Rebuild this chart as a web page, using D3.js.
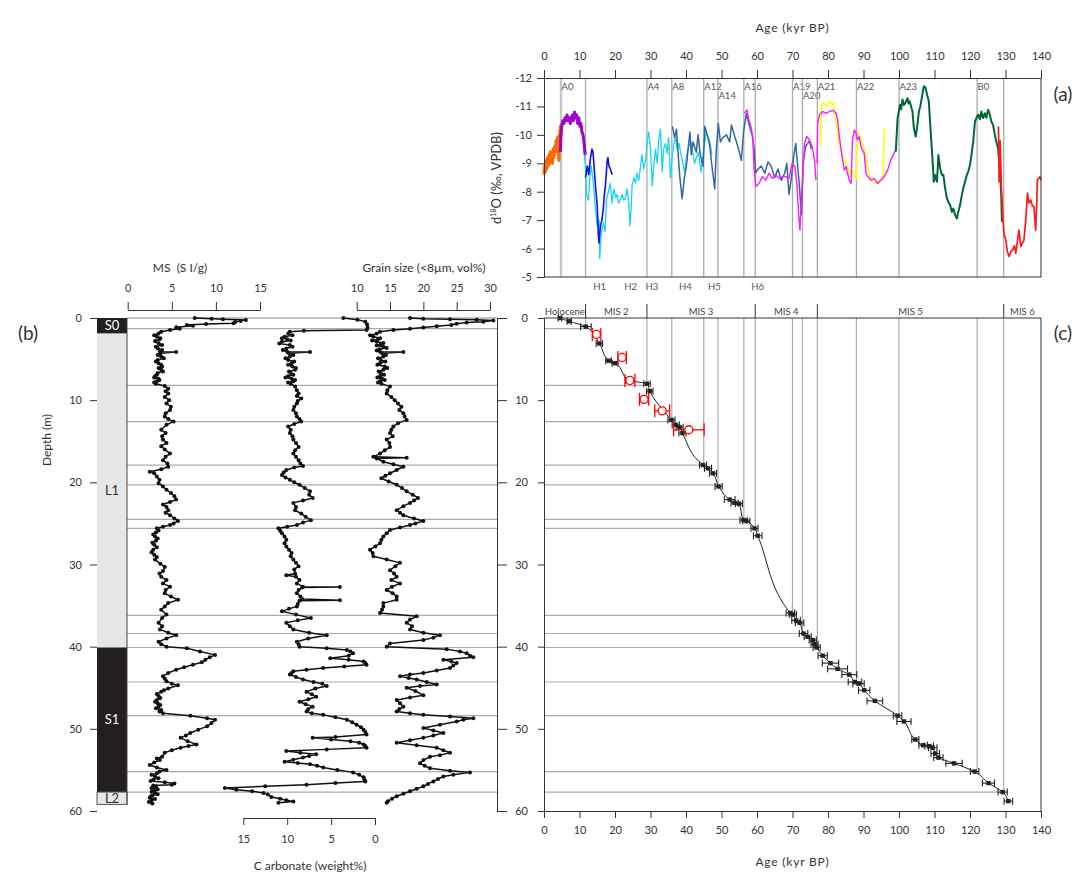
<!DOCTYPE html>
<html>
<head>
<meta charset="utf-8">
<script src="https://cdn.jsdelivr.net/npm/d3@7"></script>
<style>
  body { margin: 0; background: #fff; }
  svg { display: block; font-family: Lato, "Open Sans", "Liberation Sans", sans-serif; }
</style>
</head>
<body>
<svg id="chart" width="1084" height="887"></svg>
<script>
// ---------- tick values ----------
const ageTicks = [0, 10, 20, 30, 40, 50, 60, 70, 80, 90, 100, 110, 120, 130, 140];
const d18OTicks = [-12, -11, -10, -9, -8, -7, -6, -5];
const depthTicks = [0, 10, 20, 30, 40, 50, 60];
const msTicks = [0, 5, 10, 15];
const grainTicks = [10, 15, 20, 25, 30];
const carbTicks = [15, 10, 5, 0];

// ---------- tie points (age kyr BP, depth m) ----------
const boundaryAges   = [11.7, 29, 36, 45, 49, 56.3, 59.5, 70, 72.8, 77, 88, 100, 122, 129.5];
const boundaryDepths = [1.3, 8.2, 12.6, 17.9, 20.3, 24.5, 25.6, 36.2, 38.4, 40.1, 44.3, 48.4, 55.2, 57.7];

// ---------- events in the speleothem record ----------
const eventAges   = [4.8, 11.7, 29, 36, 45, 49, 56.3, 59.5, 70, 72.8, 77, 88, 100, 122, 129.5];
const eventLabels = ["A0", "", "A4", "A8", "A12", "A14", "A16", "", "A19", "A20", "A21", "A22", "A23", "B0", ""];
const eventRows   = [0, 0, 0, 0, 0, 1, 0, 0, 0, 1, 0, 0, 0, 0, 0];
const heinrichLabels = ["H1", "H2", "H3", "H4", "H5", "H6"];
const heinrichAges   = [15.7, 24.4, 30.4, 39.8, 48, 60.2];

// ---------- marine isotope stages ----------
const misLabels = ["Holocene", "MIS 2", "MIS 3", "MIS 4", "MIS 5", "MIS 6"];
const misBounds = [0, 11.7, 29, 59.5, 77, 129.5, 140];

// ---------- lithology ----------
const lithoUnits = ["S0", "L1", "S1", "L2"];
const lithoTop   = [0, 1.9, 40.1, 57.7];
const lithoBase  = [1.9, 40.1, 57.7, 59.2];

// ---------- d18O records [age, d18O] ----------
const recOrange = [[0.0,-8.6],[0.2,-8.9],[0.4,-8.7],[0.6,-9.1],[0.8,-8.8],[1.0,-9.2],[1.2,-8.9],[1.4,-9.3],[1.6,-9.0],[1.8,-9.4],[2.0,-9.1],[2.2,-9.3],[2.4,-9.0],[2.6,-9.5],[2.8,-9.2],[3.0,-9.6],[3.2,-9.4],[3.4,-9.8],[3.6,-9.5],[3.8,-9.9],[4.0,-9.6],[4.2,-9.1],[4.3,-10.0],[4.5,-9.8],[4.6,-10.3],[4.8,-10.0],[5.0,-10.4]];
const recPurple = [[4.6,-9.4],[4.8,-10.1],[5.0,-10.3],[5.3,-10.5],[5.6,-10.4],[5.9,-10.6],[6.2,-10.5],[6.5,-10.7],[6.8,-10.5],[7.1,-10.6],[7.4,-10.4],[7.7,-10.6],[8.0,-10.7],[8.3,-10.5],[8.6,-10.8],[8.9,-10.6],[9.2,-10.7],[9.5,-10.4],[9.8,-10.6],[10.1,-10.3],[10.4,-10.4],[10.7,-10.1],[11.0,-10.0],[11.3,-9.7],[11.6,-9.3]];
const recBlue = [[11.7,-8.5],[12.2,-8.9],[12.6,-8.6],[13.1,-9.2],[13.5,-9.5],[13.8,-9.4],[14.1,-8.9],[14.5,-8.2],[15.0,-7.5],[15.3,-6.5],[15.5,-6.2],[15.9,-6.8],[16.3,-7.0],[16.7,-7.4],[17.0,-7.9],[17.3,-8.2],[17.8,-9.1],[18.0,-9.2],[18.3,-8.9],[18.7,-8.8],[19.2,-8.6]];
const recCyan = [[11.2,-9.5],[11.7,-8.9],[12.0,-7.9],[12.5,-7.7],[12.9,-8.5],[13.3,-8.9],[13.9,-8.3],[14.5,-7.4],[15.0,-6.8],[15.5,-7.0],[15.7,-5.65],[16.1,-6.5],[16.7,-6.9],[17.2,-6.6],[17.6,-7.7],[18.3,-8.1],[18.7,-8.3],[19.2,-7.6],[19.7,-8.1],[20.2,-7.8],[20.6,-7.9],[21.0,-7.6],[21.4,-7.7],[22.0,-7.9],[22.5,-7.7],[23.0,-7.8],[23.4,-8.1],[23.9,-7.6],[24.2,-6.8],[24.6,-7.5],[24.8,-8.2],[25.3,-8.5],[25.8,-8.3],[26.2,-8.65],[26.7,-8.4],[27.2,-8.9],[27.6,-9.3],[28.1,-8.8],[28.6,-9.1],[29.1,-9.8],[29.5,-10.1],[30.0,-9.5],[30.5,-8.2],[30.9,-8.9],[31.4,-9.5],[31.9,-9.0],[32.3,-9.8],[32.8,-10.2],[33.3,-8.7],[33.7,-9.5],[34.2,-9.7],[34.7,-9.35],[35.1,-9.9],[35.6,-8.5],[36.1,-9.2],[36.6,-9.7],[37.0,-9.9],[37.5,-9.5],[38.0,-9.7],[38.8,-9.2],[39.6,-8.7],[40.5,-9.5],[41.4,-9.75],[42.4,-9.0],[43.4,-9.4],[44.3,-8.7],[44.8,-9.3],[45.7,-10.1],[46.7,-9.75],[47.3,-9.3]];
const recSteel = [[36.2,-10.3],[36.8,-9.9],[37.3,-10.2],[38.2,-8.6],[38.9,-7.75],[39.5,-8.45],[40.1,-8.9],[41.1,-10.1],[41.5,-9.3],[42.0,-9.75],[42.9,-9.4],[43.4,-10.0],[44.0,-9.3],[44.8,-8.9],[45.3,-10.3],[46.2,-9.9],[46.7,-9.6],[47.4,-8.8],[48.1,-8.1],[48.5,-9.4],[49.1,-10.4],[49.7,-9.75],[50.4,-9.9],[51.4,-10.0],[52.3,-9.75],[52.8,-10.35],[53.7,-9.95],[54.6,-9.6],[55.6,-9.1],[56.2,-10.1],[57.0,-10.75],[57.9,-10.3],[58.7,-9.95],[59.2,-9.5],[59.6,-8.65],[60.3,-8.8],[61.2,-8.9],[62.2,-8.65],[63.1,-9.05],[64.0,-8.9],[65.0,-8.5],[65.9,-8.8],[66.8,-8.4],[67.8,-8.65],[68.4,-9.0],[69.0,-7.9],[69.7,-8.5],[70.3,-9.2],[70.9,-9.7],[71.4,-9.0],[72.0,-8.1],[72.5,-7.2],[73.1,-9.1],[73.7,-9.6],[74.3,-9.7],[74.8,-9.8],[75.3,-9.5]];
const recMagentaA = [[56.5,-10.76],[57.2,-10.88],[57.7,-10.53],[58.3,-10.29],[58.8,-9.94],[59.2,-8.77],[59.7,-8.18],[60.6,-8.30],[61.5,-8.53],[62.5,-8.41],[63.4,-8.65],[64.3,-8.47],[65.3,-8.59],[66.2,-8.47],[67.1,-8.53],[68.1,-8.53],[69.0,-8.47],[69.9,-9.0],[70.7,-8.88],[71.3,-8.18],[71.7,-7.24],[72.1,-6.65],[72.5,-7.71],[73.0,-8.88],[73.4,-9.70],[74.0,-9.94],[74.8,-9.82],[75.5,-9.59],[76.2,-9.12],[76.6,-8.41]];
const recMagentaB = [[76.9,-9.0],[77.1,-10.41],[77.6,-10.70],[78.5,-10.82],[79.5,-10.76],[80.4,-10.82],[81.3,-10.86],[82.3,-10.76],[82.7,-10.53],[83.2,-9.94],[83.7,-9.47],[84.1,-9.12],[84.6,-8.76],[85.1,-8.88],[85.5,-8.65],[86.0,-8.41],[86.5,-8.29],[86.9,-9.82],[87.4,-10.17],[87.9,-10.06],[88.3,-9.82],[88.8,-9.94],[89.3,-9.59],[89.7,-9.47],[90.2,-9.35],[90.7,-8.65],[91.2,-8.53],[92.1,-8.41],[93.0,-8.47],[94.0,-8.29],[94.9,-8.41],[95.8,-8.53],[96.8,-8.76],[97.7,-9.12],[98.6,-9.35],[99.3,-9.53]];
const recYellow = [[77.9,-9.59],[78.1,-11.06],[79.0,-11.12],[79.9,-11.0],[80.4,-11.18],[81.1,-11.06],[81.6,-11.12],[82.0,-10.70],[83.0,-9.82],[84.1,-9.23],[85.1,-9.0],[86.0,-8.65],[86.7,-8.76],[87.1,-8.65],[87.9,-8.41],[88.2,-9.94],[88.6,-10.06],[89.3,-9.82],[89.7,-9.71],[90.5,-9.35],[91.1,-8.88],[91.8,-8.53],[92.5,-8.41],[93.4,-8.29],[94.3,-8.35],[95.0,-8.41],[95.5,-8.41],[95.9,-10.23]];
const recGreen = [[99.1,-9.41],[99.6,-10.59],[100.3,-11.06],[100.6,-10.9],[101.0,-11.24],[101.4,-11.05],[101.8,-11.12],[102.4,-11.29],[102.7,-11.1],[103.0,-11.18],[103.8,-10.82],[104.2,-10.23],[104.7,-9.94],[105.2,-10.35],[105.6,-10.82],[106.0,-11.0],[106.4,-11.29],[107.0,-11.71],[107.5,-11.65],[107.9,-11.41],[108.4,-11.18],[108.8,-10.35],[109.3,-9.41],[109.8,-8.35],[110.2,-8.59],[110.7,-8.35],[111.1,-9.29],[111.6,-8.82],[112.1,-8.59],[112.5,-8.59],[113.0,-8.12],[113.5,-7.76],[113.9,-7.65],[114.4,-7.53],[114.9,-7.29],[115.3,-7.41],[115.8,-7.18],[116.3,-7.06],[116.7,-7.29],[117.2,-7.53],[117.7,-7.88],[118.1,-8.12],[118.6,-8.35],[119.1,-8.59],[119.5,-8.71],[120.0,-8.94],[120.4,-9.29],[120.9,-9.76],[121.4,-10.47],[121.8,-10.59],[122.3,-10.71],[122.8,-10.55],[123.2,-10.82],[123.7,-10.59],[124.2,-10.76],[124.6,-10.6],[125.1,-10.88],[125.6,-10.71],[126.0,-10.47],[126.5,-10.35],[127.0,-10.0],[127.4,-9.76],[127.9,-9.53],[128.4,-8.82],[128.8,-7.88],[129.0,-6.94]];
const recRed = [[128.0,-10.3],[128.1,-9.5],[128.2,-8.35],[128.5,-9.8],[128.9,-8.0],[129.3,-7.0],[129.6,-6.5],[130.1,-6.3],[130.5,-5.9],[131.0,-5.72],[131.5,-5.9],[132.0,-5.95],[132.5,-6.1],[132.9,-5.83],[133.4,-6.3],[133.8,-6.65],[134.3,-6.07],[134.8,-6.2],[135.2,-6.3],[135.7,-7.0],[136.2,-7.95],[136.6,-7.6],[137.1,-7.71],[137.6,-7.5],[138.0,-7.48],[138.5,-6.65],[138.8,-7.6],[139.0,-8.41],[139.7,-8.53],[140.0,-8.4]];

// ---------- age model ----------
const ageModelAge   = [4.5,7.1,11.8,15.6,18.2,20.0,24.0,29.0,29.8,35.9,37.1,38.2,39.0,44.8,46.2,47.6,49.2,52.3,53.7,54.9,56.2,57.0,59.3,60.2,69.4,70.1,71.0,72.0,73.1,74.3,75.7,76.2,76.8,78.5,80.7,82.7,86.0,87.6,88.6,90.2,93.2,99.6,101.4,104.6,106.8,108.5,109.5,110.2,111.1,115.5,121.3,125.2,129.2,130.8];
const ageModelDepth = [0.0,0.4,1.05,3.1,5.2,5.5,7.6,8.0,8.9,12.4,13.0,13.3,14.0,17.9,18.3,18.9,20.5,22.1,22.5,22.6,24.6,24.7,25.6,26.5,35.9,36.1,36.8,37.1,38.4,38.8,39.2,39.7,40.1,41.1,42.0,42.7,43.4,44.3,44.5,45.3,46.6,48.4,49.1,51.3,52.0,52.1,52.3,53.0,53.5,54.2,55.2,56.6,57.7,58.8];
const ageModelErr   = [0.5,0.6,1.5,0.9,0.8,0.8,1.0,0.9,0.9,1.0,1.0,1.0,1.0,1.0,1.0,1.0,1.0,1.5,1.0,1.0,1.0,1.0,1.0,1.2,1.2,1.0,1.2,1.2,1.2,1.0,1.0,1.0,1.0,1.3,2.3,2.8,2.1,1.9,1.6,1.6,2.2,1.2,2.0,1.0,1.2,1.2,1.2,1.2,1.3,2.3,1.2,1.7,1.3,1.2];
const otherAge   = [14.8, 22.0, 24.2, 28.2, 33.3, 40.8];
const otherDepth = [2.0, 4.8, 7.6, 9.9, 11.3, 13.6];
const otherErr   = [1.2, 1.2, 1.4, 1.3, 2.1, 4.3];

// ---------- downcore profiles [depth m, value] ----------
const msProfile = [[0.0,7.6],[0.1,9.5],[0.16,10.8],[0.24,13.4],[0.35,12.8],[0.5,12.2],[0.65,12.0],[0.73,8.9],[0.85,6.7],[0.95,7.4],[1.14,5.5],[1.3,5.9],[1.46,4.8],[1.66,3.8],[1.9,3.5],[2.1,3.0],[2.27,3.3],[2.45,3.7],[2.6,3.6],[2.8,3.1],[3.08,3.5],[3.3,3.9],[3.5,3.2],[3.7,3.4],[3.9,3.9],[4.1,3.65],[4.15,5.5],[4.3,3.7],[4.5,3.4],[4.7,3.8],[4.9,4.1],[5.1,3.4],[5.3,3.2],[5.5,3.5],[5.7,3.8],[5.9,3.9],[6.1,3.5],[6.3,3.8],[6.5,4.0],[6.7,3.4],[6.9,3.3],[7.1,3.1],[7.25,3.0],[7.4,3.5],[7.55,3.6],[7.7,3.3],[7.85,3.0],[8.0,3.2],[8.27,4.2],[8.6,4.6],[8.9,4.3],[9.2,4.6],[9.6,4.2],[10.0,4.7],[10.4,4.4],[10.8,4.9],[11.2,4.8],[11.6,4.3],[12.0,4.2],[12.3,4.6],[12.6,5.2],[13.0,4.4],[13.6,3.8],[14.0,4.3],[14.4,3.9],[14.8,4.0],[15.2,4.4],[15.6,3.8],[16.0,4.2],[16.5,4.8],[16.9,4.3],[17.3,4.0],[17.7,4.5],[18.1,4.6],[18.4,3.8],[18.7,2.5],[18.9,3.0],[19.3,3.3],[19.7,3.6],[20.1,3.5],[20.5,4.0],[20.9,4.4],[21.3,4.9],[21.7,5.3],[22.1,5.5],[22.4,4.8],[22.7,4.0],[23.0,4.4],[23.4,4.6],[23.7,4.3],[24.0,4.8],[24.4,5.3],[24.7,5.7],[25.0,5.2],[25.2,4.8],[25.4,4.0],[25.6,3.3],[25.85,3.5],[26.1,3.2],[26.35,2.9],[26.6,3.1],[26.85,3.4],[27.1,3.2],[27.35,2.8],[27.6,3.0],[27.9,3.3],[28.2,2.9],[28.5,2.7],[28.8,3.0],[29.1,3.3],[29.4,3.1],[29.9,3.7],[30.3,4.2],[30.8,4.0],[31.1,3.6],[31.5,3.8],[31.9,4.4],[32.3,4.0],[32.7,4.8],[33.1,4.3],[33.5,4.2],[33.9,4.9],[34.3,5.7],[34.7,4.6],[35.1,4.2],[35.5,3.8],[36.1,4.4],[36.5,3.9],[37.1,3.5],[37.5,3.9],[37.9,3.65],[38.3,4.6],[38.6,5.5],[39.0,4.4],[39.4,3.5],[39.7,3.8],[40.0,4.4],[40.2,6.7],[40.6,8.2],[41.0,9.9],[41.3,9.3],[41.6,8.8],[41.9,8.4],[42.2,7.4],[42.5,6.4],[42.8,5.5],[43.2,4.6],[43.6,4.0],[43.9,4.2],[44.2,4.4],[44.5,5.0],[44.7,5.7],[45.1,4.6],[45.3,4.1],[45.5,3.8],[45.75,3.3],[46.0,3.5],[46.25,3.7],[46.5,3.3],[46.7,3.1],[46.9,3.4],[47.1,3.7],[47.3,3.5],[47.5,3.2],[47.7,3.8],[47.9,3.6],[48.1,4.0],[48.4,7.1],[48.7,9.0],[48.9,9.9],[49.3,9.5],[49.7,9.0],[50.1,8.0],[50.5,7.1],[50.8,6.6],[51.1,6.0],[51.5,6.8],[51.9,7.8],[52.1,6.9],[52.3,6.0],[52.6,5.0],[52.9,4.2],[53.4,3.9],[53.6,3.3],[53.8,3.65],[54.1,3.0],[54.4,2.5],[54.7,3.3],[55.0,4.4],[55.2,3.6],[55.4,3.3],[55.6,2.7],[55.8,3.1],[56.0,3.5],[56.2,2.9],[56.35,2.6],[56.5,4.2],[56.65,5.3],[56.8,5.0],[56.9,2.9],[57.0,3.2],[57.2,2.7],[57.35,3.4],[57.5,3.0],[57.65,2.7],[57.8,3.1],[57.95,3.4],[58.1,2.8],[58.25,2.6],[58.4,2.5],[58.55,3.1],[58.7,2.7],[58.9,2.4],[59.1,2.8]];
const carbProfile = [[0.0,3.6],[0.2,2.0],[0.45,1.1],[0.8,0.9],[1.2,0.85],[1.46,0.95],[1.54,8.1],[1.66,9.7],[1.9,9.9],[2.1,9.4],[2.27,10.3],[2.45,10.6],[2.6,10.0],[2.75,9.6],[2.88,10.6],[3.1,10.9],[3.28,9.7],[3.5,9.4],[3.7,10.1],[3.9,10.5],[4.1,10.0],[4.15,7.4],[4.3,9.8],[4.5,9.3],[4.7,9.7],[4.9,10.2],[5.1,9.9],[5.3,9.2],[5.5,9.5],[5.7,9.9],[5.9,9.4],[6.1,9.0],[6.3,9.1],[6.5,9.8],[6.7,9.6],[6.9,9.3],[7.1,9.9],[7.25,10.2],[7.4,9.5],[7.55,9.1],[7.7,9.3],[7.85,9.9],[8.0,9.6],[8.35,9.1],[8.8,8.9],[9.2,8.7],[9.5,8.9],[9.8,8.4],[10.1,8.8],[10.4,8.9],[10.8,9.2],[11.2,9.3],[11.6,9.0],[12.0,8.9],[12.3,8.6],[12.6,8.4],[12.9,9.2],[13.2,9.9],[13.6,9.6],[14.0,9.7],[14.4,9.4],[14.8,9.3],[15.2,9.0],[15.7,8.7],[16.1,9.1],[16.5,9.3],[16.9,9.0],[17.3,8.7],[17.7,8.5],[18.0,8.2],[18.2,9.2],[18.5,10.1],[18.8,10.4],[19.1,10.6],[19.4,10.2],[19.7,9.7],[20.0,9.2],[20.3,8.6],[20.7,8.0],[21.1,7.4],[21.5,7.5],[21.9,7.1],[22.2,8.2],[22.5,9.3],[23.0,9.0],[23.4,9.1],[23.8,8.4],[24.2,7.9],[24.6,7.3],[24.9,8.2],[25.2,8.9],[25.4,10.0],[25.6,11.0],[25.9,10.8],[26.2,10.6],[26.6,10.3],[27.0,10.1],[27.4,10.3],[27.8,10.1],[28.2,9.8],[28.6,9.5],[29.0,9.6],[29.4,9.3],[29.8,9.0],[30.2,8.7],[30.6,9.2],[31.1,9.1],[31.3,10.1],[31.5,9.0],[31.9,8.6],[32.3,8.9],[32.7,8.2],[32.75,4.0],[32.8,8.3],[33.1,8.7],[33.5,8.9],[33.9,8.5],[34.2,8.3],[34.35,4.0],[34.4,8.6],[34.8,8.8],[35.1,8.9],[35.4,9.8],[35.7,10.6],[36.1,9.0],[36.5,7.3],[36.8,8.8],[37.1,10.1],[37.5,9.7],[37.9,9.3],[38.3,7.5],[38.6,5.5],[39.0,7.6],[39.4,8.9],[39.7,8.7],[40.0,8.6],[40.2,5.5],[40.4,3.2],[40.6,2.8],[40.8,2.5],[41.1,3.0],[41.4,5.1],[41.6,3.0],[41.8,1.3],[42.0,1.1],[42.2,0.96],[42.4,3.5],[42.6,5.9],[42.8,7.8],[43.0,9.3],[43.2,9.5],[43.4,9.7],[43.7,9.0],[44.0,8.2],[44.3,7.0],[44.5,6.0],[44.8,5.5],[45.1,6.8],[45.5,7.8],[45.8,7.2],[46.1,6.7],[46.4,7.6],[46.7,8.6],[47.0,7.9],[47.3,7.1],[47.6,7.6],[47.9,7.8],[48.1,7.2],[48.3,5.9],[48.6,4.5],[48.9,3.2],[49.2,2.6],[49.5,2.1],[49.8,1.6],[50.1,1.3],[50.4,1.1],[50.7,0.96],[51.0,4.5],[51.1,7.1],[51.3,5.0],[51.5,2.8],[51.7,1.8],[51.9,1.3],[52.1,1.1],[52.3,0.96],[52.5,5.5],[52.7,10.1],[52.9,8.5],[53.1,6.7],[53.3,7.5],[53.5,8.2],[53.75,9.3],[54.0,10.3],[54.15,8.8],[54.3,7.4],[54.5,6.6],[54.7,5.9],[55.0,4.3],[55.3,2.5],[55.6,1.8],[55.9,1.3],[56.2,1.2],[56.4,1.1],[56.6,4.5],[56.8,7.8],[57.0,12.5],[57.2,17.1],[57.4,15.8],[57.6,14.0],[57.8,12.7],[58.0,12.2],[58.3,11.8],[58.5,10.8],[58.7,10.1],[58.85,9.3],[59.0,11.0]];
const grainProfile = [[0.0,18.0],[0.1,20.0],[0.15,24.0],[0.2,28.0],[0.3,30.5],[0.45,29.0],[0.55,26.5],[0.7,25.0],[0.85,24.2],[1.0,22.0],[1.15,20.0],[1.3,18.0],[1.45,15.5],[1.66,13.5],[1.9,13.0],[2.1,12.0],[2.27,12.5],[2.45,13.5],[2.6,13.2],[2.75,12.3],[2.88,13.0],[3.05,14.0],[3.2,13.6],[3.35,13.0],[3.5,14.0],[3.65,14.5],[3.8,13.4],[3.95,13.0],[4.1,13.5],[4.15,17.0],[4.3,13.8],[4.5,14.4],[4.7,14.0],[4.9,13.2],[5.1,13.6],[5.3,14.3],[5.5,13.5],[5.7,13.1],[5.9,14.2],[6.1,14.6],[6.3,14.0],[6.5,13.3],[6.7,13.6],[6.9,14.1],[7.1,13.5],[7.25,13.1],[7.4,13.8],[7.55,14.2],[7.7,13.5],[7.85,13.2],[8.0,13.7],[8.35,15.0],[8.8,14.6],[9.2,14.5],[9.6,15.2],[10.0,15.7],[10.4,16.2],[10.8,16.7],[11.2,16.4],[11.6,17.0],[12.0,17.2],[12.4,17.5],[12.8,16.2],[13.2,15.5],[13.6,15.2],[14.0,15.0],[14.4,15.4],[14.8,14.5],[15.2,14.9],[15.7,15.0],[16.1,14.2],[16.5,13.5],[16.9,12.5],[17.0,17.5],[17.1,13.0],[17.5,14.0],[17.8,15.5],[18.1,17.0],[18.5,16.0],[18.9,15.0],[19.2,14.3],[19.5,13.7],[19.9,14.8],[20.3,16.0],[20.7,16.8],[21.1,17.5],[21.5,18.4],[21.9,19.2],[22.2,18.6],[22.5,18.0],[22.9,17.0],[23.4,16.0],[23.7,16.5],[24.0,17.0],[24.4,18.6],[24.7,20.0],[25.0,18.8],[25.2,18.0],[25.5,16.5],[25.8,15.0],[26.2,14.5],[26.6,14.0],[27.0,13.7],[27.4,13.5],[27.8,12.8],[28.2,12.0],[28.6,12.4],[29.0,12.5],[29.4,14.5],[29.8,16.5],[30.2,15.8],[30.7,15.0],[31.1,15.6],[31.5,16.0],[31.9,15.2],[32.3,16.5],[32.7,15.3],[33.1,14.5],[33.5,15.4],[33.9,16.0],[34.3,16.0],[34.7,14.0],[35.1,14.0],[35.5,13.8],[35.9,13.5],[36.3,19.0],[36.7,18.0],[37.1,17.5],[37.5,18.3],[37.9,18.0],[38.3,20.0],[38.6,22.5],[38.9,21.5],[39.2,20.0],[39.6,15.0],[40.0,14.5],[40.3,23.5],[40.6,25.5],[40.8,26.5],[41.1,27.0],[41.3,27.5],[41.6,23.0],[41.8,24.2],[42.0,25.0],[42.3,24.5],[42.6,24.0],[42.9,22.0],[43.2,20.0],[43.4,18.0],[43.6,16.5],[43.8,17.8],[44.0,19.0],[44.3,20.5],[44.6,22.0],[44.8,19.5],[45.0,17.5],[45.4,18.8],[45.9,20.0],[46.2,18.0],[46.5,16.0],[46.9,16.5],[47.3,17.0],[47.6,16.4],[47.9,16.0],[48.1,18.0],[48.3,20.0],[48.5,24.0],[48.7,27.5],[48.9,26.0],[49.1,25.0],[49.5,22.5],[49.9,20.0],[50.2,21.5],[50.5,23.0],[50.8,21.5],[51.1,20.0],[51.4,18.0],[51.7,16.0],[52.0,19.0],[52.3,22.0],[52.6,23.0],[52.9,24.0],[53.2,22.5],[53.4,21.0],[53.8,20.0],[54.2,19.5],[54.5,20.2],[54.8,21.0],[55.1,24.0],[55.3,27.0],[55.6,24.5],[55.8,23.0],[56.1,22.2],[56.4,21.5],[56.7,20.7],[57.0,20.0],[57.3,19.0],[57.6,18.0],[57.9,17.0],[58.2,16.0],[58.5,15.3],[58.8,14.7],[59.0,14.5]];

// ---------- scales ----------
const svg = d3.select("#chart");
const FONT = 'Lato, "Open Sans", "Liberation Sans", sans-serif';
const ageX   = d3.scaleLinear().domain([0, 140]).range([544, 1041]);
const d18Y   = d3.scaleLinear().domain([-12, -5]).range([78, 277]);
const depthY = d3.scaleLinear().domain([0, 60]).range([318, 811]);
const msX    = d3.scaleLinear().domain([0, 15]).range([127.7, 260]);
const grainX = d3.scaleLinear().domain([10, 30]).range([356.7, 490]);
const carbX  = d3.scaleLinear().domain([0, 15]).range([375, 243.3]);

function styleAxis(g, size) {
  g.selectAll("path, line").attr("stroke", "#333").attr("stroke-width", 1);
  g.selectAll("text").attr("font-size", size || 11).attr("fill", "#333").attr("font-family", FONT);
}
const gridGrey = "#ababab";

// =============== panel (a): d18O ===============
const pa = svg.append("g");
// event lines
eventAges.forEach((a, i) => {
  pa.append("line")
    .attr("x1", ageX(a)).attr("x2", ageX(a)).attr("y1", d18Y(-12)).attr("y2", d18Y(-5))
    .attr("stroke", i === 0 ? "#c6c6c6" : gridGrey).attr("stroke-width", i === 0 ? 2.4 : 1.3);
  if (eventLabels[i]) {
    pa.append("text").text(eventLabels[i])
      .attr("x", ageX(a) + 0.5).attr("y", eventRows[i] ? 99 : 90)
      .attr("font-size", 9.5).attr("fill", "#555").attr("font-family", FONT);
  }
});
heinrichLabels.forEach((h, i) => {
  pa.append("text").text(h).attr("x", ageX(heinrichAges[i])).attr("y", 290)
    .attr("text-anchor", "middle").attr("font-size", 9.5).attr("fill", "#555").attr("font-family", FONT);
});

const d18Line = d3.line().x(d => ageX(d[0])).y(d => d18Y(d[1]));
const records = [
  [recCyan, "#19d2f5", 1.3],
  [recBlue, "#1010e8", 1.6],
  [recOrange, "#ff6a00", 3.2],
  [recPurple, "#9b06c8", 3.0],
  [recSteel, "#3467a0", 1.5],
  [recYellow, "#ffff00", 1.6],
  [recMagentaA, "#ff19ff", 1.4],
  [recMagentaB, "#ff19ff", 1.4],
  [recGreen, "#006837", 2.0],
  [recRed, "#ff1a1a", 1.7]
];
records.forEach(([data, color, w]) => {
  pa.append("path").datum(data).attr("d", d18Line)
    .attr("fill", "none").attr("stroke", color).attr("stroke-width", w).attr("stroke-linejoin", "round");
});

// frame & axes
pa.append("line").attr("x1", ageX(140)).attr("x2", ageX(140)).attr("y1", 78).attr("y2", 277).attr("stroke", "#333");
pa.append("line").attr("x1", ageX(0)).attr("x2", ageX(140)).attr("y1", 277).attr("y2", 277).attr("stroke", "#333");
const axTop = pa.append("g").attr("transform", "translate(0,78)")
  .call(d3.axisTop(ageX).tickValues(ageTicks).tickSize(8).tickSizeOuter(0).tickPadding(10));
styleAxis(axTop);
const axD18 = pa.append("g").attr("transform", "translate(544,0)")
  .call(d3.axisLeft(d18Y).tickValues(d18OTicks).tickSize(7).tickSizeOuter(0).tickPadding(5).tickFormat(d => String(d)));
styleAxis(axD18);
pa.append("text").attr("x", ageX(70)).attr("y", 32).attr("text-anchor", "middle")
  .attr("font-size", 12).attr("letter-spacing", 0.8).attr("fill", "#333").attr("font-family", FONT).text("Age (kyr BP)");
const yl = pa.append("text").attr("transform", "translate(501,178) rotate(-90)")
  .attr("text-anchor", "middle").attr("font-size", 13).attr("fill", "#333").attr("font-family", FONT);
yl.append("tspan").text("d");
yl.append("tspan").attr("font-size", 7).attr("dy", -5).text("18");
yl.append("tspan").attr("dy", 5).text("O (‰, VPDB)");
svg.append("text").attr("x", 1063).attr("y", 101).attr("text-anchor", "middle")
  .attr("font-size", 19).attr("fill", "#333").attr("font-family", FONT).text("(a)");

// =============== panel (b): downcore profiles ===============
const pb = svg.append("g");
// tie-point depths across the profiles
pb.append("line").attr("x1", 127).attr("x2", 497).attr("y1", depthY(0)).attr("y2", depthY(0)).attr("stroke", "#888");
boundaryDepths.forEach(d => {
  pb.append("line").attr("x1", 127).attr("x2", 497).attr("y1", depthY(d)).attr("y2", depthY(d))
    .attr("stroke", gridGrey).attr("stroke-width", 1.2);
});
// lithology column
lithoUnits.forEach((u, i) => {
  const soil = u.startsWith("S");
  const y0 = depthY(lithoTop[i]), y1 = depthY(lithoBase[i]);
  pb.append("rect").attr("x", 97).attr("y", y0).attr("width", 30).attr("height", y1 - y0)
    .attr("fill", soil ? "#231f20" : "#e6e7e8")
    .attr("stroke", u === "L2" ? "#555" : "none").attr("stroke-width", 1);
  pb.append("text").text(u).attr("x", 112).attr("y", (y0 + y1) / 2 + 4.5).attr("text-anchor", "middle")
    .attr("font-size", 13).attr("fill", soil ? "#fff" : "#333").attr("font-family", FONT);
});
pb.append("line").attr("x1", 127).attr("x2", 127).attr("y1", depthY(0)).attr("y2", depthY(59.2)).attr("stroke", "#444");

function profile(data, xs) {
  const line = d3.line().x(d => xs(d[1])).y(d => depthY(d[0]));
  pb.append("path").datum(data).attr("d", line).attr("fill", "none")
    .attr("stroke", "#111").attr("stroke-width", 1.5).attr("stroke-linejoin", "round");
  pb.append("g").selectAll("circle").data(data).join("circle")
    .attr("cx", d => xs(d[1])).attr("cy", d => depthY(d[0])).attr("r", 2.0).attr("fill", "#111");
}
profile(msProfile, msX);
profile(carbProfile, carbX);
profile(grainProfile, grainX);

// depth axes
const axDepthL = pb.append("g").attr("transform", "translate(97,0)")
  .call(d3.axisLeft(depthY).tickValues(depthTicks).tickSize(7).tickSizeOuter(0).tickPadding(8));
axDepthL.select(".domain").remove();
styleAxis(axDepthL);
const axDepthR = pb.append("g").attr("transform", "translate(497,0)")
  .call(d3.axisRight(depthY).tickValues(depthTicks).tickSize(10).tickSizeOuter(0).tickFormat(""));
styleAxis(axDepthR);
pb.append("text").attr("transform", "translate(51,440) rotate(-90)").attr("text-anchor", "middle")
  .attr("font-size", 12).attr("fill", "#333").attr("font-family", FONT).text("Depth (m)");

const axMS = pb.append("g").attr("transform", "translate(0,310)")
  .call(d3.axisTop(msX).tickValues(msTicks).tickSize(8).tickSizeOuter(0).tickPadding(10));
styleAxis(axMS);
pb.append("text").attr("x", 180).attr("y", 272).attr("text-anchor", "middle")
  .attr("font-size", 12).attr("fill", "#333").attr("font-family", FONT).text("MS  (S I/g)").attr("xml:space", "preserve");
const axGrain = pb.append("g").attr("transform", "translate(0,310)")
  .call(d3.axisTop(grainX).tickValues(grainTicks).tickSize(8).tickSizeOuter(0).tickPadding(10));
styleAxis(axGrain);
pb.append("text").attr("x", 424).attr("y", 272).attr("text-anchor", "middle")
  .attr("font-size", 12).attr("fill", "#333").attr("font-family", FONT).text("Grain size (<8µm, vol%)");
const axCarb = pb.append("g").attr("transform", "translate(0,818)")
  .call(d3.axisBottom(carbX).tickValues(carbTicks).tickSize(7).tickSizeOuter(0).tickPadding(10));
styleAxis(axCarb);
pb.append("text").attr("x", 310).attr("y", 870).attr("text-anchor", "middle")
  .attr("font-size", 12).attr("fill", "#333").attr("font-family", FONT).text("C arbonate (weight%)");
svg.append("text").attr("x", 28).attr("y", 340).attr("text-anchor", "middle")
  .attr("font-size", 19).attr("fill", "#333").attr("font-family", FONT).text("(b)");

// =============== panel (c): age-depth model ===============
const pc = svg.append("g");
boundaryAges.forEach((a, i) => {
  const d = boundaryDepths[i];
  pc.append("line").attr("x1", ageX(a)).attr("x2", ageX(a)).attr("y1", depthY(0)).attr("y2", depthY(d))
    .attr("stroke", gridGrey).attr("stroke-width", 1.2);
  pc.append("line").attr("x1", ageX(0)).attr("x2", ageX(a)).attr("y1", depthY(d)).attr("y2", depthY(d))
    .attr("stroke", gridGrey).attr("stroke-width", 1.2);
});
// MIS header
for (let i = 1; i < misBounds.length - 1; i++) {
  pc.append("line").attr("x1", ageX(misBounds[i])).attr("x2", ageX(misBounds[i]))
    .attr("y1", 304).attr("y2", depthY(0)).attr("stroke", "#333");
}
misLabels.forEach((m, i) => {
  pc.append("text").text(m).attr("x", (ageX(misBounds[i]) + ageX(misBounds[i + 1])) / 2).attr("y", 315)
    .attr("text-anchor", "middle").attr("font-size", 9.5).attr("fill", "#444").attr("font-family", FONT);
});

const modelPts = ageModelAge.map((a, i) => ({ a, d: ageModelDepth[i], e: ageModelErr[i] }));
pc.append("path").datum(modelPts)
  .attr("d", d3.line().x(p => ageX(p.a)).y(p => depthY(p.d)).curve(d3.curveMonotoneY))
  .attr("fill", "none").attr("stroke", "#222").attr("stroke-width", 1);
const eb = pc.append("g").attr("stroke", "#222").attr("stroke-width", 1.1);
modelPts.forEach(p => {
  const y = depthY(p.d), x0 = ageX(p.a - p.e), x1 = ageX(p.a + p.e);
  eb.append("line").attr("x1", x0).attr("x2", x1).attr("y1", y).attr("y2", y);
  eb.append("line").attr("x1", x0).attr("x2", x0).attr("y1", y - 3.5).attr("y2", y + 3.5);
  eb.append("line").attr("x1", x1).attr("x2", x1).attr("y1", y - 3.5).attr("y2", y + 3.5);
});
pc.append("g").selectAll("rect").data(modelPts).join("rect")
  .attr("x", p => ageX(p.a) - 2.2).attr("y", p => depthY(p.d) - 2.2)
  .attr("width", 4.4).attr("height", 4.4).attr("fill", "#222");

const rb = pc.append("g").attr("stroke", "#ff0000").attr("stroke-width", 1.3).attr("fill", "none");
otherAge.forEach((a, i) => {
  const y = depthY(otherDepth[i]), x0 = ageX(a - otherErr[i]), x1 = ageX(a + otherErr[i]);
  rb.append("line").attr("x1", x0).attr("x2", x1).attr("y1", y).attr("y2", y);
  rb.append("line").attr("x1", x0).attr("x2", x0).attr("y1", y - 6.5).attr("y2", y + 6.5);
  rb.append("line").attr("x1", x1).attr("x2", x1).attr("y1", y - 6.5).attr("y2", y + 6.5);
  rb.append("circle").attr("cx", ageX(a)).attr("cy", y).attr("r", 4.0).attr("fill", "#fff");
});

// frame & axes
pc.append("line").attr("x1", ageX(0)).attr("x2", ageX(140)).attr("y1", depthY(0)).attr("y2", depthY(0)).attr("stroke", "#333");
pc.append("line").attr("x1", ageX(140)).attr("x2", ageX(140)).attr("y1", depthY(0)).attr("y2", depthY(60)).attr("stroke", "#333");
const axAgeB = pc.append("g").attr("transform", "translate(0,811)")
  .call(d3.axisBottom(ageX).tickValues(ageTicks).tickSize(7).tickSizeOuter(0).tickPadding(8));
styleAxis(axAgeB);
const axDepthC = pc.append("g").attr("transform", "translate(544,0)")
  .call(d3.axisLeft(depthY).tickValues(depthTicks).tickSize(6).tickSizeOuter(0).tickPadding(10));
styleAxis(axDepthC);
pc.append("text").attr("x", ageX(70)).attr("y", 866).attr("text-anchor", "middle")
  .attr("font-size", 12).attr("letter-spacing", 0.8).attr("fill", "#333").attr("font-family", FONT).text("Age (kyr BP)");
svg.append("text").attr("x", 1063).attr("y", 340).attr("text-anchor", "middle")
  .attr("font-size", 19).attr("fill", "#333").attr("font-family", FONT).text("(c)");
</script>
</body>
</html>
